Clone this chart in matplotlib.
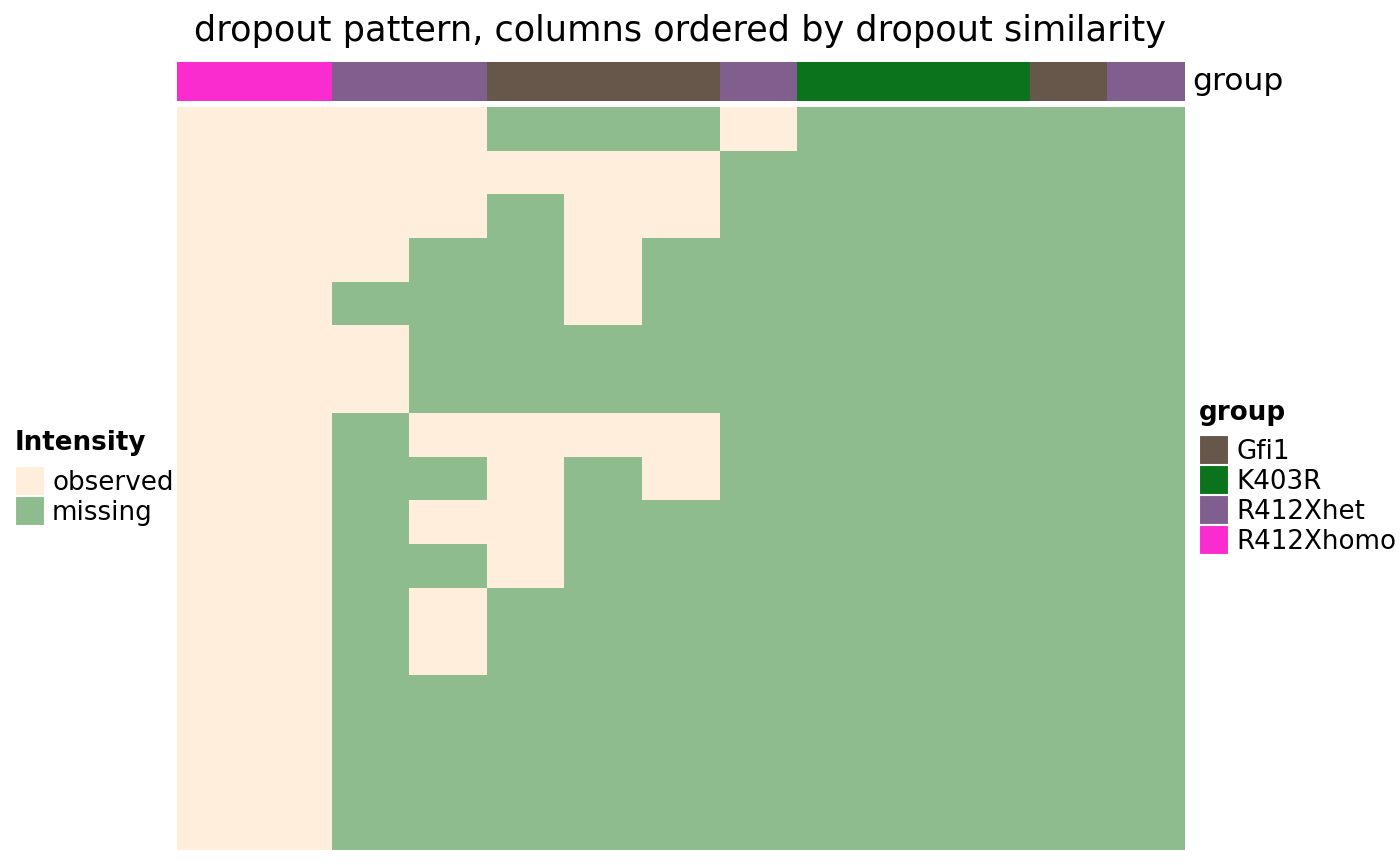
import matplotlib
matplotlib.use("Agg")
import matplotlib.pyplot as plt
import numpy as np
from matplotlib.colors import ListedColormap
from matplotlib.patches import Rectangle

W, H = 1400, 865

# column groups (left to right, ordered by dropout similarity)
col_groups = ["R412Xhomo", "R412Xhomo", "R412Xhet", "R412Xhet",
              "Gfi1", "Gfi1", "Gfi1", "R412Xhet",
              "K403R", "K403R", "K403R", "Gfi1", "R412Xhet"]
group_levels = ["Gfi1", "K403R", "R412Xhet", "R412Xhomo"]
group_colors = ["#67574A", "#0B731B", "#805F8F", "#FB2CCF"]

intensity_levels = ["observed", "missing"]
intensity_colors = ["#FFEEDB", "#8FBC8F"]

# 1 = missing, 0 = observed, one row per feature (top to bottom)
missing = [
    [0, 0, 0, 0, 1, 1, 1, 0, 1, 1, 1, 1, 1],
    [0, 0, 0, 0, 0, 0, 0, 1, 1, 1, 1, 1, 1],
    [0, 0, 0, 0, 1, 0, 0, 1, 1, 1, 1, 1, 1],
    [0, 0, 0, 1, 1, 0, 1, 1, 1, 1, 1, 1, 1],
    [0, 0, 1, 1, 1, 0, 1, 1, 1, 1, 1, 1, 1],
    [0, 0, 0, 1, 1, 1, 1, 1, 1, 1, 1, 1, 1],
    [0, 0, 0, 1, 1, 1, 1, 1, 1, 1, 1, 1, 1],
    [0, 0, 1, 0, 0, 0, 0, 1, 1, 1, 1, 1, 1],
    [0, 0, 1, 1, 0, 1, 0, 1, 1, 1, 1, 1, 1],
    [0, 0, 1, 0, 0, 1, 1, 1, 1, 1, 1, 1, 1],
    [0, 0, 1, 1, 0, 1, 1, 1, 1, 1, 1, 1, 1],
    [0, 0, 1, 0, 1, 1, 1, 1, 1, 1, 1, 1, 1],
    [0, 0, 1, 0, 1, 1, 1, 1, 1, 1, 1, 1, 1],
    [0, 0, 1, 1, 1, 1, 1, 1, 1, 1, 1, 1, 1],
    [0, 0, 1, 1, 1, 1, 1, 1, 1, 1, 1, 1, 1],
    [0, 0, 1, 1, 1, 1, 1, 1, 1, 1, 1, 1, 1],
    [0, 0, 1, 1, 1, 1, 1, 1, 1, 1, 1, 1, 1],
]


def box(x0, y0, x1, y1):
    # pixel box (top-left origin) -> figure fraction rect
    return [x0 / W, 1 - y1 / H, (x1 - x0) / W, (y1 - y0) / H]


fig = plt.figure(figsize=(W / 100, H / 100), dpi=100)

# main heatmap
ax = fig.add_axes(box(177, 107, 1185, 850))
ax.imshow(np.array(missing), cmap=ListedColormap(intensity_colors),
          vmin=0, vmax=1, aspect="auto", interpolation="nearest")
ax.set_axis_off()

# group annotation bar
ax_top = fig.add_axes(box(177, 62, 1185, 101))
grp_idx = np.array([[group_levels.index(g) for g in col_groups]])
ax_top.imshow(grp_idx, cmap=ListedColormap(group_colors), vmin=0,
              vmax=len(group_levels) - 1, aspect="auto", interpolation="nearest")
ax_top.set_axis_off()
fig.text(1192 / W, 1 - 82 / H, "group", fontsize=22.6, va="center", ha="left")

fig.text(680 / W, 1 - 31 / H,
         "dropout pattern, columns ordered by dropout similarity",
         fontsize=25.3, ha="center", va="center")


def draw_legend(x, y_title, y_first, title, labels, colors):
    fig.text(x / W, 1 - y_title / H, title, fontsize=18.8, fontweight="bold",
             va="center", ha="left")
    for i, (lab, col) in enumerate(zip(labels, colors)):
        y0 = y_first + i * 30
        fig.add_artist(Rectangle((x / W, 1 - (y0 + 29) / H), 29 / W, 29 / H,
                                 transform=fig.transFigure, facecolor=col,
                                 edgecolor="white", linewidth=0.8))
        fig.text((x + 37) / W, 1 - (y0 + 17) / H, lab, fontsize=18.8,
                 va="center", ha="left")


draw_legend(15, 443, 466, "Intensity", intensity_levels, intensity_colors)
draw_legend(1199, 413, 435, "group", group_levels, group_colors)

fig.savefig("out.png", dpi=100)
